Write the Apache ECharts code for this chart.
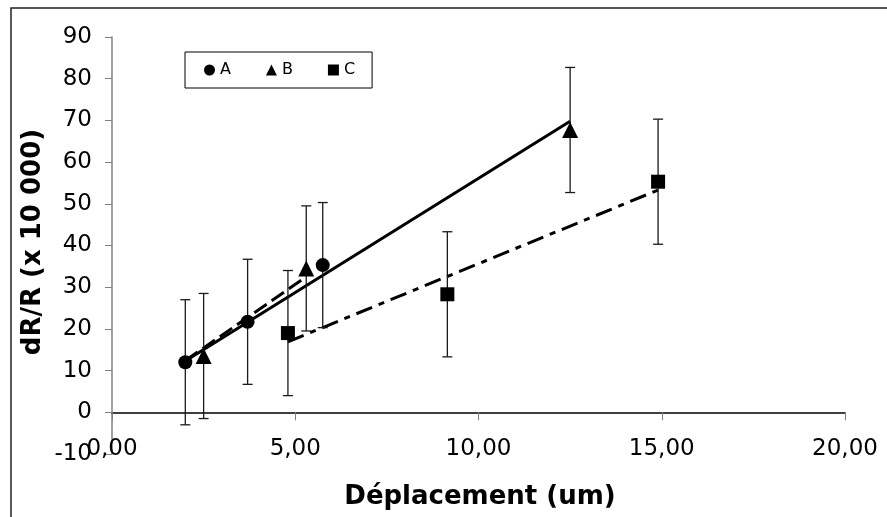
<!DOCTYPE html>
<html>
<head>
<meta charset="utf-8">
<script src="https://cdn.jsdelivr.net/npm/echarts@6/dist/echarts.min.js"></script>
<style>
  html, body { margin: 0; padding: 0; background: #fff; }
  #chart { width: 887px; height: 517px; }
</style>
</head>
<body>
<div id="chart"></div>
<script>
// points
const xA = [2.0, 3.7, 5.75];
const yA = [12.0, 21.7, 35.3];
const xB = [2.5, 5.3, 12.5];
const yB = [13.5, 34.5, 67.7];
const xC = [4.8, 9.15, 14.9];
const yC = [19.0, 28.3, 55.3];
const errBar = 15; // +/- erreur

// trend lines (end points)
const fitSolid = [[2.0, 12.3], [12.5, 69.8]];
const fitDash = [[2.0, 12.4], [5.3, 32.5]];
const fitDashDot = [[4.8, 16.9], [14.9, 53.3]];

const yTicks = { min: -10, max: 90, interval: 10 };
const xTicks = { min: 0, max: 20, interval: 5 };

const FONT = "DejaVu Sans";

function pts(xs, ys) {
  return xs.map((x, i) => [x, ys[i]]);
}
function errData(xs, ys) {
  return xs.map((x, i) => [x, ys[i], errBar]);
}

//barres d'erreur
function renderErr(params, api) {
  const x = api.value(0), y = api.value(1), e = api.value(2);
  const top = api.coord([x, y + e]);
  const bot = api.coord([x, y - e]);
  const cap = 5;
  const st = { stroke: "#1a1a1a", lineWidth: 1.3 };
  return {
    type: "group",
    children: [
      { type: "line", shape: { x1: top[0], y1: top[1], x2: bot[0], y2: bot[1] }, style: st },
      { type: "line", shape: { x1: top[0] - cap, y1: top[1], x2: top[0] + cap, y2: top[1] }, style: st },
      { type: "line", shape: { x1: bot[0] - cap, y1: bot[1], x2: bot[0] + cap, y2: bot[1] }, style: st }
    ]
  };
}

const markStyle = { color: "#000", opacity: 1 };

const chart = echarts.init(document.getElementById("chart"));
chart.setOption({
  animation: false,
  backgroundColor: "#fff",
  textStyle: { fontFamily: FONT },
  graphic: [
    {
      type: "rect",
      shape: { x: 11, y: 8, width: 900, height: 600 },
      style: { fill: "none", stroke: "#222", lineWidth: 1.5 },
      silent: true
    },
    {
      type: "text",
      x: 480, y: 497,
      style: {
        text: "Déplacement (um)",
        font: "bold 26px " + FONT,
        fill: "#000",
        align: "center",
        verticalAlign: "middle"
      }
    },
    {
      type: "text",
      x: 33, y: 242,
      rotation: Math.PI / 2,
      style: {
        text: "dR/R (x 10 000)",
        font: "bold 26px " + FONT,
        fill: "#000",
        align: "center",
        verticalAlign: "middle"
      }
    }
  ],
  legend: {
    left: 185,
    top: 52,
    padding: [10, 17, 10, 19],
    itemGap: 35,
    itemWidth: 11,
    itemHeight: 11,
    borderColor: "#000",
    borderWidth: 1,
    backgroundColor: "#fff",
    data: ["A", "B", "C"],
    itemStyle: { opacity: 1 },
    textStyle: { fontSize: 16, color: "#000", fontFamily: FONT }
  },
  grid: { left: 112, right: 42, top: 37, bottom: 63 },
  xAxis: [
    {
      type: "value",
      position: "bottom",
      min: xTicks.min, max: xTicks.max, interval: xTicks.interval,
      axisLine: { show: true, onZero: true, lineStyle: { color: "#000", width: 1.5 } },
      axisTick: { show: true, length: 8, lineStyle: { color: "#808080" } },
      axisLabel: { show: false },
      splitLine: { show: false }
    },
    {
      type: "value",
      position: "bottom",
      min: xTicks.min, max: xTicks.max, interval: xTicks.interval,
      axisLine: { show: false, onZero: false },
      axisTick: { show: false },
      splitLine: { show: false },
      axisLabel: {
        fontSize: 23,
        color: "#000",
        fontFamily: FONT,
        verticalAlign: "middle",
        margin: -5,
        formatter: v => v.toFixed(2).replace(".", ",")
      }
    }
  ],
  yAxis: {
    type: "value",
    min: yTicks.min, max: yTicks.max, interval: yTicks.interval,
    axisLine: { show: true, onZero: false, lineStyle: { color: "#808080", width: 1.5 } },
    axisTick: { show: true, length: 7, lineStyle: { color: "#808080" } },
    axisLabel: { fontSize: 23, color: "#000", fontFamily: FONT, margin: 20 },
    splitLine: { show: false }
  },
  series: [
    {
      name: "fitSolid", type: "line", data: fitSolid, symbol: "none", z: 2,
      lineStyle: { color: "#000", width: 3, type: "solid" }
    },
    {
      name: "fitDash", type: "line", data: fitDash, symbol: "none", z: 2,
      lineStyle: { color: "#000", width: 3, type: [15, 6] }
    },
    {
      name: "fitDashDot", type: "line", data: fitDashDot, symbol: "none", z: 2,
      lineStyle: { color: "#000", width: 3, type: [17, 7, 6, 7] }
    },
    { type: "custom", renderItem: renderErr, data: errData(xA, yA), z: 3 },
    { type: "custom", renderItem: renderErr, data: errData(xB, yB), z: 3 },
    { type: "custom", renderItem: renderErr, data: errData(xC, yC), z: 3 },
    {
      name: "A", type: "scatter", data: pts(xA, yA), symbol: "circle", symbolSize: 14, z: 5,
      itemStyle: markStyle
    },
    {
      name: "B", type: "scatter", data: pts(xB, yB), symbol: "triangle", symbolSize: 16, z: 5,
      itemStyle: markStyle
    },
    {
      name: "C", type: "scatter", data: pts(xC, yC), symbol: "rect", symbolSize: 14, z: 5,
      itemStyle: markStyle
    }
  ]
});
</script>
</body>
</html>
